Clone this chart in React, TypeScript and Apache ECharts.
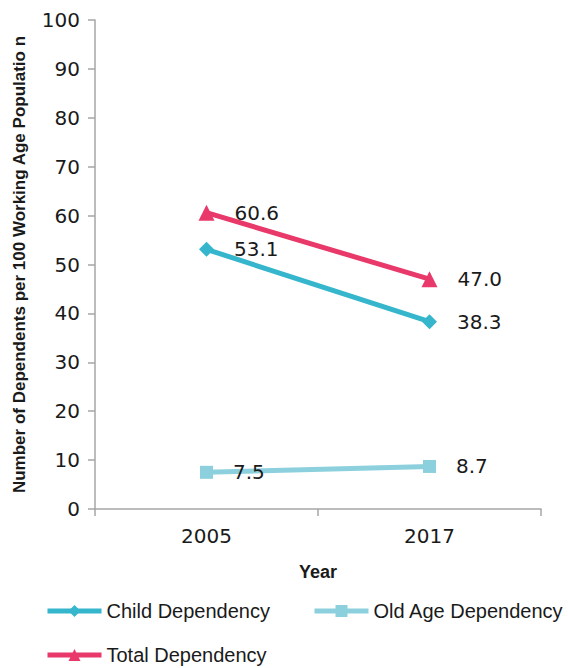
import React, { useEffect, useRef } from "react";
import * as echarts from "echarts";

const years = ["2005", "2017"];
const childDependency = [53.1, 38.3];
const oldAgeDependency = [7.5, 8.7];
const totalDependency = [60.6, 47.0];

const NUM_FONT = "DejaVu Sans";
const TXT_FONT = "Liberation Sans";
const TEXT = "#1a1a1a";
const AXIS = "#a6a6a6";

export default function App() {
  const ref = useRef<HTMLDivElement>(null);
  useEffect(() => {
    if (!ref.current) return;
    const chart = echarts.init(ref.current, undefined, { renderer: "svg" });
    const label = {
      show: true,
      position: "right" as const,
      distance: 20,
      color: TEXT,
      fontFamily: NUM_FONT,
      fontSize: 20,
      formatter: (p: any) => Number(p.value).toFixed(1),
    };
    const legendBase = {
      padding: 0,
      itemWidth: 54,
      itemHeight: 15,
      lineStyle: { width: 5 },
      textStyle: { color: TEXT, fontFamily: TXT_FONT, fontSize: 20 },
    };
    chart.setOption({
      animation: false,
      textStyle: { fontFamily: TXT_FONT },
      grid: { left: 95, right: 27, top: 20, bottom: 159 },
      legend: [
        { ...legendBase, data: ["Child Dependency"], left: 45, top: 601 },
        { ...legendBase, data: ["Old Age Dependency"], left: 312, top: 601 },
        { ...legendBase, data: ["Total Dependency"], left: 45, top: 645 },
      ],
      xAxis: {
        type: "category",
        data: years,
        boundaryGap: true,
        name: "Year",
        nameLocation: "middle",
        nameGap: 54,
        nameTextStyle: { color: TEXT, fontFamily: TXT_FONT, fontWeight: "bold", fontSize: 18 },
        axisLine: { lineStyle: { color: AXIS, width: 1.5 } },
        axisTick: { show: true, length: 7, lineStyle: { color: AXIS, width: 1.5 } },
        axisLabel: { color: TEXT, fontFamily: NUM_FONT, fontSize: 20, margin: 17 },
      },
      yAxis: {
        type: "value",
        min: 0,
        max: 100,
        interval: 10,
        name: "Number of Dependents per 100 Working Age Populatio n",
        nameLocation: "middle",
        nameGap: 67,
        nameTextStyle: { color: TEXT, fontFamily: TXT_FONT, fontWeight: "bold", fontSize: 17 },
        axisLine: { show: true, lineStyle: { color: AXIS, width: 1.5 } },
        axisTick: { show: true, length: 7, lineStyle: { color: AXIS, width: 1.5 } },
        splitLine: { show: false },
        axisLabel: { color: TEXT, fontFamily: NUM_FONT, fontSize: 20, margin: 15 },
      },
      series: [
        {
          name: "Child Dependency",
          type: "line",
          data: childDependency,
          color: "#35b6cc",
          symbol: "diamond",
          symbolSize: 15,
          lineStyle: { width: 5 },
          label,
        },
        {
          name: "Old Age Dependency",
          type: "line",
          data: oldAgeDependency,
          color: "#8dd0dd",
          symbol: "rect",
          symbolSize: 13,
          lineStyle: { width: 5 },
          label,
        },
        {
          name: "Total Dependency",
          type: "line",
          data: totalDependency,
          color: "#e8396a",
          symbol: "triangle",
          symbolSize: 16,
          lineStyle: { width: 5 },
          label,
        },
      ],
    });
    return () => chart.dispose();
  }, []);
  return <div ref={ref} style={{ width: 568, height: 668, position: "absolute", left: 0, top: 0 }} />;
}
